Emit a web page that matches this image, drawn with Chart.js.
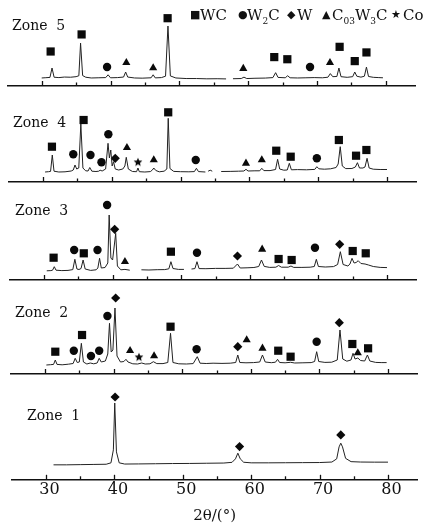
<!DOCTYPE html>
<html lang="en">
<head>
<meta charset="UTF-8">
<title>XRD patterns, zones 1-5</title>
<script src="https://cdn.jsdelivr.net/npm/chart.js"></script>
<style>
  body { margin: 0; background: #fff; }
  #fig { position: relative; width: 425px; height: 529px; overflow: hidden; font-family: 'DejaVu Serif', serif; color: #111; }
  #fig canvas { position: absolute; left: 0; top: 0; }
  .zone { position: absolute; font-size: 14px; line-height: 14px; white-space: nowrap; }
  .leg { position: absolute; top: 8px; font-size: 15px; line-height: 15px; white-space: nowrap; }
  .sym { position: absolute; top: 9px; font-family: 'DejaVu Sans', sans-serif; font-size: 11px; line-height: 11px; }
  sub { font-size: 9px; line-height: 0; }
</style>
</head>
<body>
<div id="fig">
  <canvas id="c1" width="425" height="529"></canvas>
  <canvas id="c2" width="425" height="529"></canvas>
  <canvas id="c3" width="425" height="529"></canvas>
  <canvas id="c4" width="425" height="529"></canvas>
  <canvas id="c5" width="425" height="529"></canvas>

  <div class="zone" style="left:12px;top:18px">Zone&nbsp; 5</div>
  <div class="zone" style="left:13px;top:115px">Zone&nbsp; 4</div>
  <div class="zone" style="left:15px;top:203px">Zone&nbsp; 3</div>
  <div class="zone" style="left:15px;top:305px">Zone&nbsp; 2</div>
  <div class="zone" style="left:27px;top:408px">Zone&nbsp; 1</div>

  <span class="sym" style="left:190px">■</span><div class="leg" style="left:200px">WC</div>
  <span class="sym" style="left:238px">●</span><div class="leg" style="left:247px">W<sub>2</sub>C</div>
  <span class="sym" style="left:287px">◆</span><div class="leg" style="left:297px">W</div>
  <span class="sym" style="left:322px">▲</span><div class="leg" style="left:332px">C<sub>03</sub>W<sub>3</sub>C</div>
  <span class="sym" style="left:391px">★</span><div class="leg" style="left:403px">Co</div>
</div>
<script>
// 2θ tick values (every 5°, labels only on the tens)
const tickValues = [30, 35, 40, 45, 50, 55, 60, 65, 70, 75, 80];

// traces: [2θ, intensity]  (null = break in the scanned line)
const z5Trace = [[30.0,8.6],[30.6,8.9],[31.2,9.2],[31.5,19.3],[31.8,9.4],[32.5,9.0],[33.3,9.6],[34.2,9.4],[35.0,10.0],[35.4,11.0],[35.65,46],[35.95,11.2],[36.4,9.4],[37.2,8.6],[38.2,8.8],[39.3,9.0],[39.65,12.0],[40.0,8.8],[41.0,9.0],[41.9,9.6],[42.2,15.0],[42.5,9.6],[43.5,8.6],[44.6,8.4],[45.9,8.8],[46.2,12.0],[46.5,8.7],[47.4,9.0],[48.0,10.5],[48.35,64.3],[48.7,10.8],[49.5,8.6],[51.0,8.0],[52.5,8.0],[54.0,7.7],[55.5,7.8],[56.8,7.6],[57.0,null],[57.8,7.8],[59.0,8.0],[59.4,9.5],[59.8,8.0],[61.0,8.3],[62.5,8.5],[63.6,9.0],[64.0,14.3],[64.35,9.2],[65.4,8.8],[65.75,11.0],[66.1,8.8],[67.2,8.6],[68.4,8.8],[69.6,9.0],[70.8,8.8],[71.6,9.4],[71.95,13.3],[72.3,10.0],[72.9,10.2],[73.2,19.3],[73.5,10.0],[74.4,9.3],[75.2,10.0],[75.5,15.0],[75.8,10.5],[76.4,9.5],[76.9,10.5],[77.2,20.3],[77.5,10.2],[78.2,9.3],[79.0,9.0],[79.6,8.8]];
const z4Trace = [[30.3,10.0],[30.8,10.3],[31.1,10.6],[31.35,27],[31.6,10.8],[32.3,10.0],[33.2,10.2],[34.1,11.0],[34.4,12.0],[34.65,17],[34.9,13.0],[35.2,14.0],[35.5,58],[35.8,14.0],[36.2,11.2],[36.55,11.0],[36.8,14.5],[37.1,10.8],[37.7,10.5],[38.1,10.8],[38.3,11.8],[38.6,11.0],[39.1,13.0],[39.45,38.7],[39.65,24],[39.85,32],[40.05,16],[40.25,20.3],[40.5,13.0],[41.0,12.0],[41.6,13.0],[41.9,16],[42.1,24.7],[42.4,13.0],[43.0,10.5],[43.6,10.3],[43.8,14.0],[44.0,10.3],[44.8,10.0],[45.6,10.4],[45.9,12.0],[46.1,14.0],[46.4,11.5],[46.9,10.2],[47.6,10.8],[48.0,13.0],[48.2,63.7],[48.45,13.5],[49.0,10.6],[50.0,10.3],[51.2,10.2],[52.0,10.4],[52.3,13.7],[52.6,10.4],[53.6,10.0],[53.7,null],[54.0,10.8],[54.3,11.8],[54.6,10.8],[54.8,null],[55.9,10.5],[57.2,10.6],[58.4,10.8],[59.2,11.0],[59.5,12.7],[59.8,11.0],[60.8,11.2],[61.5,11.2],[61.8,13.7],[62.1,11.4],[63.0,11.4],[63.8,12.5],[64.1,22.7],[64.4,13.0],[65.0,11.8],[65.5,12.0],[65.8,18.7],[66.1,12.2],[67.0,12.4],[68.3,12.2],[69.5,12.6],[69.8,15.3],[70.1,13.2],[70.9,12.8],[71.8,13.2],[72.6,14.5],[72.9,18],[73.2,35.3],[73.5,16],[74.0,13.4],[74.9,13.5],[75.4,15],[75.7,19.3],[76.0,14],[76.5,14],[76.8,15],[77.1,23.7],[77.4,14.0],[78.0,12.8],[79.0,12.5],[80.0,12.5]];
const z3Trace = [[30.4,9.2],[31.0,9.4],[31.25,9.8],[31.5,13.3],[31.75,9.8],[32.6,9.4],[33.5,9.6],[34.2,10.4],[34.5,20.7],[34.8,11],[35.1,10.5],[35.4,11.5],[35.7,20],[36.0,11],[36.8,9.6],[37.6,10.2],[37.85,12],[38.1,21.7],[38.35,12],[38.9,12.5],[39.3,17],[39.5,65],[39.75,22],[40.0,20],[40.45,46.7],[40.7,14],[41.2,10.2],[41.8,10.6],[42.5,9.8],[42.6,null],[44.2,10.2],[45.3,10.0],[46.5,10.3],[47.6,10.4],[48.2,11.2],[48.5,18.3],[48.8,11.5],[49.6,10.6],[50.4,10.6],[50.5,null],[51.5,11.0],[52.0,11.4],[52.3,18.3],[52.6,11.4],[53.6,11.3],[55.0,11.6],[56.4,11.6],[57.6,11.8],[58.2,16],[58.6,12],[59.6,12.2],[60.6,12.5],[61.3,13.5],[61.7,20],[62.1,13.6],[62.9,12.6],[63.8,12.8],[64.2,14.5],[64.6,12.8],[65.6,12.8],[66.0,14],[66.4,12.6],[67.6,12.6],[68.8,12.8],[69.4,13.5],[69.7,20.7],[70.0,13.5],[71.0,13.0],[72.2,13.4],[72.8,15.5],[73.2,28.3],[73.6,15.5],[74.3,14.0],[74.6,16],[74.9,21.7],[75.2,17],[75.5,17.5],[75.8,19.3],[76.2,16.5],[76.8,16],[77.3,15],[78.0,13.5],[79.0,12.6],[80.0,12.4]];
const z2Trace = [[30.2,9.0],[30.8,9.3],[31.25,9.6],[31.5,14],[31.75,9.6],[32.5,9.2],[33.4,9.8],[34.1,10.5],[34.4,15.7],[34.7,11.5],[35.0,12],[35.3,30.7],[35.6,12],[36.1,10],[36.6,11],[37.1,10.2],[37.6,11],[37.9,15.7],[38.2,12],[38.8,13],[39.15,20],[39.4,50.7],[39.65,22],[39.9,24],[40.2,66],[40.5,18],[41.0,12],[41.5,12.5],[41.8,14.7],[42.1,12],[42.8,10.2],[43.5,10.0],[44.1,11],[44.6,10],[45.3,10.2],[45.8,12.3],[46.3,10.4],[47.2,10.4],[47.9,11.5],[48.3,40.7],[48.65,11.5],[49.5,10.2],[50.6,10.0],[51.6,10.4],[52.2,17.3],[52.6,10.8],[53.5,10.5],[54.5,10.8],[55.8,10.6],[57.0,10.8],[57.8,11.5],[58.1,19],[58.4,11.5],[59.3,11.2],[60.4,11.4],[61.3,12],[61.7,19],[62.1,12],[63.0,11.3],[63.6,11.8],[63.9,14.7],[64.2,11.5],[65.0,11.2],[65.8,11.7],[66.4,11.0],[67.6,11.2],[68.8,11.4],[69.3,12.5],[69.6,22.3],[69.9,12.5],[70.8,11.6],[71.8,11.8],[72.6,14],[73.0,44],[73.4,15],[74.0,12.8],[74.6,14],[74.9,20.7],[75.2,15],[75.6,16],[76.0,13.5],[76.6,13],[77.0,19],[77.35,13],[78.2,11.6],[79.0,11.4],[79.8,11.4]];
const z1Trace = [[31.1,15.0],[33.0,15.0],[35.0,15.2],[37.0,15.4],[38.8,15.6],[39.5,17.0],[39.85,30],[40.05,77],[40.3,28],[40.7,17.0],[41.5,15.8],[43.5,15.9],[46.0,16.1],[48.5,16.3],[51.0,16.4],[53.5,16.6],[56.0,16.8],[57.2,17.5],[57.7,21],[58.05,26.7],[58.4,21],[58.9,17.6],[60.0,17.0],[62.5,17.0],[65.0,17.1],[67.5,17.2],[70.0,17.3],[71.8,17.8],[72.5,21],[72.85,33],[73.1,36.7],[73.35,33],[73.8,21.5],[74.6,18.2],[76.0,17.8],[78.0,17.7],[80.0,17.7]];

// phase markers: [phase, 2θ, height]
const z5Marks = [['WC',31.3,37],['WC',35.8,55.3],['WC',48.3,72.7],['WC',63.8,31],['WC',65.7,28.7],['WC',73.3,42],['WC',75.5,26.7],['WC',77.2,36],
  ['W2C',39.5,20.3],['W2C',69.0,20.3],
  ['Co3W3C',42.3,25],['Co3W3C',46.2,19.3],['Co3W3C',59.3,18.7],['Co3W3C',71.9,25]];
const z4Marks = [['WC',31.3,35.3],['WC',35.9,62],['WC',48.2,69.7],['WC',63.9,31.3],['WC',66.0,25.3],['WC',73.0,42],['WC',75.5,26.3],['WC',77.0,32],
  ['W2C',34.4,27.7],['W2C',36.9,27],['W2C',38.5,19.7],['W2C',39.5,47.7],['W2C',52.2,22],['W2C',69.8,23.7],
  ['W',40.5,23.7],
  ['Co3W3C',42.2,34.3],['Co3W3C',46.1,22],['Co3W3C',59.5,18.7],['Co3W3C',61.8,22],
  ['Co',43.8,19.7]];
const z3Marks = [['WC',31.4,22.3],['WC',35.8,26.7],['WC',48.5,28.3],['WC',64.2,21],['WC',66.1,20],['WC',75.0,29],['WC',76.9,26.7],
  ['W2C',34.4,30],['W2C',37.8,30],['W2C',39.2,75],['W2C',52.3,27.3],['W2C',69.5,32.3],
  ['W',40.3,50.7],['W',58.2,24],['W',73.1,35.7],
  ['Co3W3C',41.8,18.3],['Co3W3C',61.8,30.7]];
const z2Marks = [['WC',31.5,22.3],['WC',35.4,39],['WC',48.3,47.3],['WC',64.0,23.3],['WC',65.8,17.3],['WC',74.8,30],['WC',77.1,25.7],
  ['W2C',34.2,23.3],['W2C',36.7,18],['W2C',37.9,23.3],['W2C',39.1,58],['W2C',52.1,24.7],['W2C',69.6,32.3],
  ['W',40.3,76],['W',58.1,27.3],['W',72.9,51.3],
  ['Co3W3C',42.4,23.3],['Co3W3C',45.9,18],['Co3W3C',59.4,34],['Co3W3C',61.7,25.7],['Co3W3C',75.6,21],
  ['Co',43.7,16.7]];
const z1Marks = [['W',40.1,83],['W',58.3,33.3],['W',73.1,45]];

const phases = ['WC', 'W2C', 'W', 'Co3W3C', 'Co'];

// filled five-point star for Co (Chart.js' own 'star' is only stroked)
function starGlyph(r) {
  const c = document.createElement('canvas');
  const s = Math.ceil(r * 2 + 2);
  c.width = s; c.height = s;
  const g = c.getContext('2d');
  g.fillStyle = '#0a0a0a';
  g.beginPath();
  for (let i = 0; i < 10; i++) {
    const a = -Math.PI / 2 + i * Math.PI / 5;
    const rr = i % 2 ? r * 0.45 : r;
    g.lineTo(s / 2 + rr * Math.cos(a), s / 2 + rr * Math.sin(a));
  }
  g.closePath();
  g.fill();
  return c;
}

const phaseShape = { WC: 'rect', W2C: 'circle', W: 'rectRot', Co3W3C: 'triangle', Co: starGlyph(4.6) };
const phaseRadius = { WC: 5.8, W2C: 4.2, W: 4.6, Co3W3C: 4.7, Co: 4.6 };

// inward tick marks drawn from the x scale
const inwardTicks = {
  id: 'inwardTicks',
  afterDraw(chart) {
    const s = chart.scales.x, ctx = chart.ctx;
    ctx.save();
    ctx.strokeStyle = '#111';
    ctx.lineWidth = 1.3;
    s.ticks.forEach(t => {
      const px = Math.round(s.getPixelForValue(t.value)) + 0.5;
      const len = t.value % 10 === 0 ? 5 : 3.5;
      ctx.beginPath();
      ctx.moveTo(px, s.top);
      ctx.lineTo(px, s.top - len);
      ctx.stroke();
    });
    ctx.restore();
  }
};

function makeZone(id, trace, marks, axisY, left, right, bottomAxis) {
  const datasets = [{
    type: 'line',
    data: trace,
    borderColor: '#222',
    borderWidth: 1,
    pointRadius: 0,
    tension: 0,
    spanGaps: false,
    clip: false
  }];
  phases.forEach(p => {
    const pts = marks.filter(m => m[0] === p).map(m => ({ x: m[1], y: m[2] }));
    if (!pts.length) return;
    datasets.push({
      type: 'scatter',
      data: pts,
      pointStyle: phaseShape[p],
      pointRadius: phaseRadius[p],
      backgroundColor: '#0a0a0a',
      borderColor: '#0a0a0a',
      borderWidth: 0,
      clip: false
    });
  });
  new Chart(document.getElementById(id), {
    data: { datasets },
    plugins: [inwardTicks],
    options: {
      responsive: false,
      animation: false,
      devicePixelRatio: 1,
      layout: { padding: { left: left, right: 425 - right, top: axisY - 86, bottom: bottomAxis ? 3 : 529 - axisY } },
      plugins: { legend: { display: false }, tooltip: { enabled: false } },
      scales: {
        x: {
          type: 'linear',
          min: 25,
          max: 84.3,
          afterBuildTicks: s => { s.ticks = tickValues.map(v => ({ value: v })); },
          grid: { display: false, drawTicks: false },
          border: { display: true, color: '#111', width: 1.6 },
          ticks: {
            display: bottomAxis,
            padding: 0,
            labelOffset: 3.5,
            color: '#111',
            font: { family: 'DejaVu Serif', size: 16 },
            callback: v => (v % 10 === 0 ? String(v) : '')
          },
          title: {
            display: bottomAxis,
            text: '2θ/(°)',
            color: '#111',
            font: { family: 'DejaVu Serif', size: 15 },
            padding: { top: 8, bottom: 1 }
          }
        },
        y: { display: false, min: 0, max: 86 }
      }
    }
  });
}

makeZone('c5', z5Trace, z5Marks, 86, 7.3, 415.3, false);
makeZone('c4', z4Trace, z4Marks, 182, 8.6, 416.6, false);
makeZone('c3', z3Trace, z3Marks, 280, 9.7, 416.5, false);
makeZone('c2', z2Trace, z2Marks, 374, 10.7, 417.5, false);
makeZone('c1', z1Trace, z1Marks, 480, 11.8, 417.4, true);
</script>
</body>
</html>
